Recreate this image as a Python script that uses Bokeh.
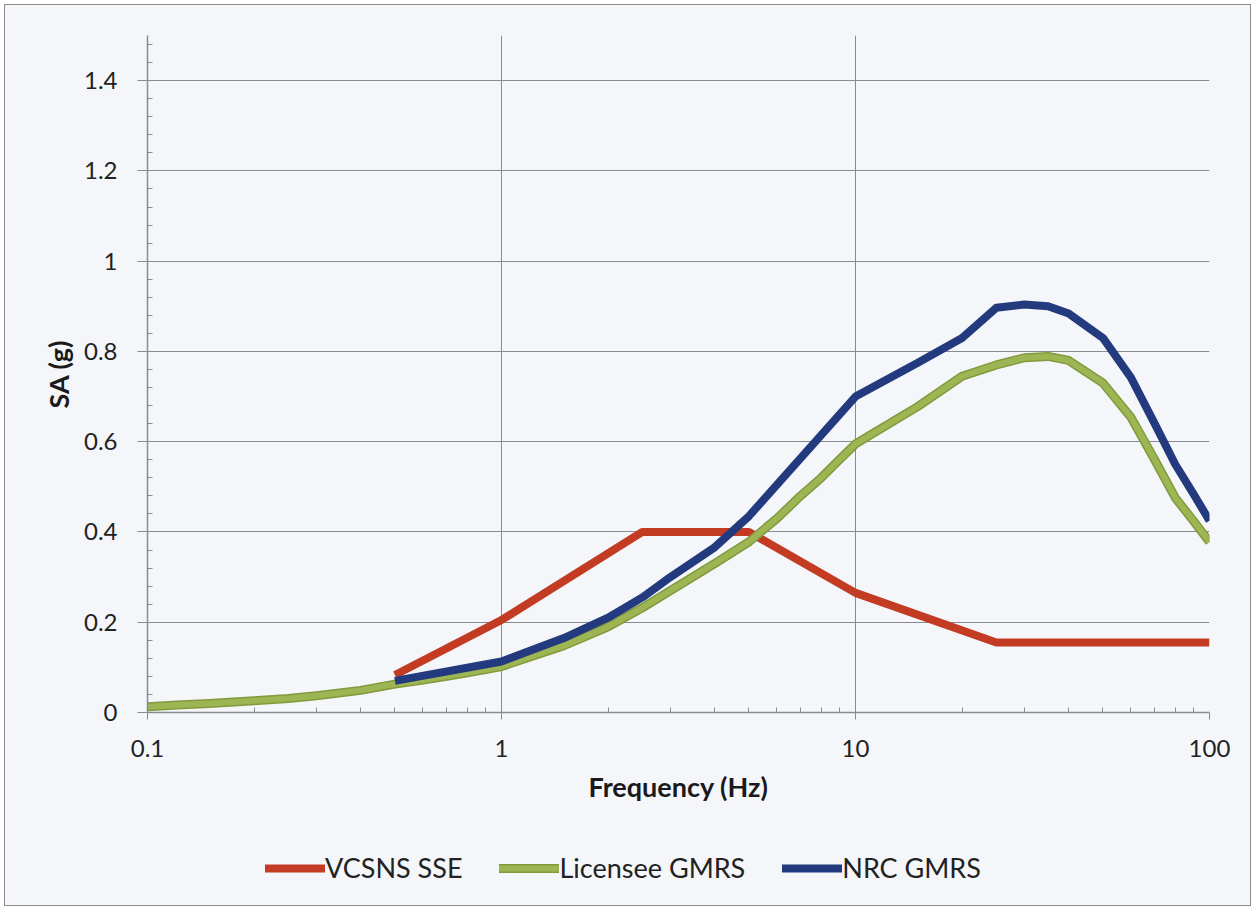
from bokeh.plotting import figure
from bokeh.layouts import column
from bokeh.models import FixedTicker, CustomJSTickFormatter, Legend, LegendItem, Range1d
from bokeh.embed import file_html
from bokeh.resources import INLINE

# ---- data ----
freq_sse = [0.5, 1, 2.5, 5, 10, 25, 100]
sa_sse = [0.083, 0.205, 0.40, 0.40, 0.265, 0.155, 0.155]

freq_lic = [0.1, 0.125, 0.15, 0.2, 0.25, 0.3, 0.4, 0.5, 0.6, 0.7, 0.8, 0.9, 1,
            1.5, 2, 2.5, 3, 4, 5, 6, 7, 8, 9, 10, 15, 20, 25, 30, 35, 40, 50,
            60, 70, 80, 90, 100]
sa_lic = [0.013, 0.017, 0.020, 0.026, 0.031, 0.037, 0.049, 0.063, 0.072, 0.080,
          0.088, 0.095, 0.102, 0.148, 0.19, 0.232, 0.27, 0.33, 0.378, 0.43,
          0.48, 0.52, 0.56, 0.595, 0.678, 0.745, 0.77, 0.786, 0.789, 0.78,
          0.73, 0.654, 0.56, 0.476, 0.425, 0.378]

freq_nrc = [0.5, 1, 1.5, 2, 2.5, 3, 4, 5, 10, 15, 20, 25, 30, 35, 40, 50, 60,
            70, 80, 90, 100]
sa_nrc = [0.07, 0.113, 0.165, 0.21, 0.255, 0.30, 0.366, 0.435, 0.70, 0.775,
          0.83, 0.897, 0.904, 0.90, 0.884, 0.83, 0.742, 0.64, 0.55, 0.485,
          0.425]

series_names = ["VCSNS SSE", "Licensee GMRS", "NRC GMRS"]
x_ticks = [0.1, 1, 10, 100]
x_minor = [m * d for d in (0.1, 1, 10) for m in range(2, 10)]
y_ticks = [0, 0.2, 0.4, 0.6, 0.8, 1.0, 1.2, 1.4]
y_minor = [round(i * 0.04, 2) for i in range(0, 38)]

# ---- styling ----
bg = "#f4f6fa"
red = "#c23b22"
green = "#9db552"
green_edge = "#829a3c"
blue = "#233a7e"
grid_col = "#8a8a92"
font = "Lato"

p = figure(width=1245, height=817, x_axis_type="log",
           x_range=(0.1, 100), y_range=(0, 1.5),
           output_backend="svg", toolbar_location=None,
           min_border_left=142, min_border_right=41,
           min_border_top=30, min_border_bottom=110,
           background_fill_color=bg, border_fill_color=bg,
           outline_line_color=None)

p.line(freq_sse, sa_sse, line_color=red, line_width=8, line_join="round")
p.line(freq_lic, sa_lic, line_color=green_edge, line_width=9, line_join="round")
p.line(freq_lic, sa_lic, line_color=green, line_width=6, line_join="round")
p.line(freq_nrc, sa_nrc, line_color=blue, line_width=8, line_join="round")

# axes
p.xaxis.ticker = FixedTicker(ticks=x_ticks, minor_ticks=x_minor)
p.yaxis.ticker = FixedTicker(ticks=y_ticks, minor_ticks=y_minor)
p.xaxis.formatter = CustomJSTickFormatter(code="return String(tick);")
p.yaxis.formatter = CustomJSTickFormatter(
    code="return tick.toFixed(1).replace(/\\.0$/, '');")

for ax in (p.xaxis, p.yaxis):
    ax.axis_line_color = grid_col
    ax.axis_line_width = 1.5
    ax.major_tick_line_color = grid_col
    ax.minor_tick_line_color = grid_col
    ax.major_label_text_font = font
    ax.major_label_text_font_size = "24px"
    ax.major_label_text_color = "#222222"
    ax.axis_label_text_font = font
    ax.axis_label_text_font_size = "27px"
    ax.axis_label_text_font_style = "bold"
    ax.axis_label_text_color = "#1a1a1a"

p.xaxis.major_tick_in = 0
p.xaxis.major_tick_out = 7
p.xaxis.minor_tick_in = 5
p.xaxis.minor_tick_out = 0
p.xaxis.major_label_standoff = 20
p.xaxis.axis_label = "Frequency (Hz)"
p.xaxis.axis_label_standoff = 10

p.yaxis.major_tick_in = 0
p.yaxis.major_tick_out = 10
p.yaxis.minor_tick_in = 5
p.yaxis.minor_tick_out = 0
p.yaxis.major_label_standoff = 20
p.yaxis.axis_label = "SA (g)"
p.yaxis.axis_label_standoff = 6

p.xgrid.grid_line_color = grid_col
p.ygrid.grid_line_color = grid_col
p.xgrid.grid_line_width = 1
p.ygrid.grid_line_width = 1

# ---- legend strip (Excel-style legend under the axis title) ----
# The series are drawn again here only as legend keys: the strip's y range is
# set far above the data, so the lines themselves stay out of view.
pl = figure(width=1245, height=83, output_backend="svg", toolbar_location=None,
            x_axis_location=None, y_axis_location=None,
            x_range=Range1d(0, 100), y_range=Range1d(10, 11),
            min_border=0, background_fill_color=bg, border_fill_color=bg,
            outline_line_color=None)
pl.grid.visible = False
k_sse = pl.line(freq_sse, sa_sse, line_color=red, line_width=8, line_cap="round")
k_lic_e = pl.line(freq_lic, sa_lic, line_color=green_edge, line_width=9,
                  line_cap="round")
k_lic = pl.line(freq_lic, sa_lic, line_color=green, line_width=6, line_cap="round")
k_nrc = pl.line(freq_nrc, sa_nrc, line_color=blue, line_width=8, line_cap="round")

legend = Legend(items=[LegendItem(label=series_names[0], renderers=[k_sse]),
                       LegendItem(label=series_names[1], renderers=[k_lic_e, k_lic]),
                       LegendItem(label=series_names[2], renderers=[k_nrc])],
                location=(118, 21), orientation="horizontal",
                background_fill_alpha=0, border_line_color=None,
                label_text_font=font, label_text_font_size="27px",
                label_text_color="#222222", glyph_width=60, glyph_height=30,
                label_standoff=0, spacing=37, padding=0, margin=0)
pl.add_layout(legend, "center")

layout = column(p, pl, spacing=0,
                styles={"border": "1px solid #8c8c8c",
                        "margin": "4px 0px 0px 4px",
                        "background-color": bg})

open("out.html", "w").write(file_html(layout, INLINE))
